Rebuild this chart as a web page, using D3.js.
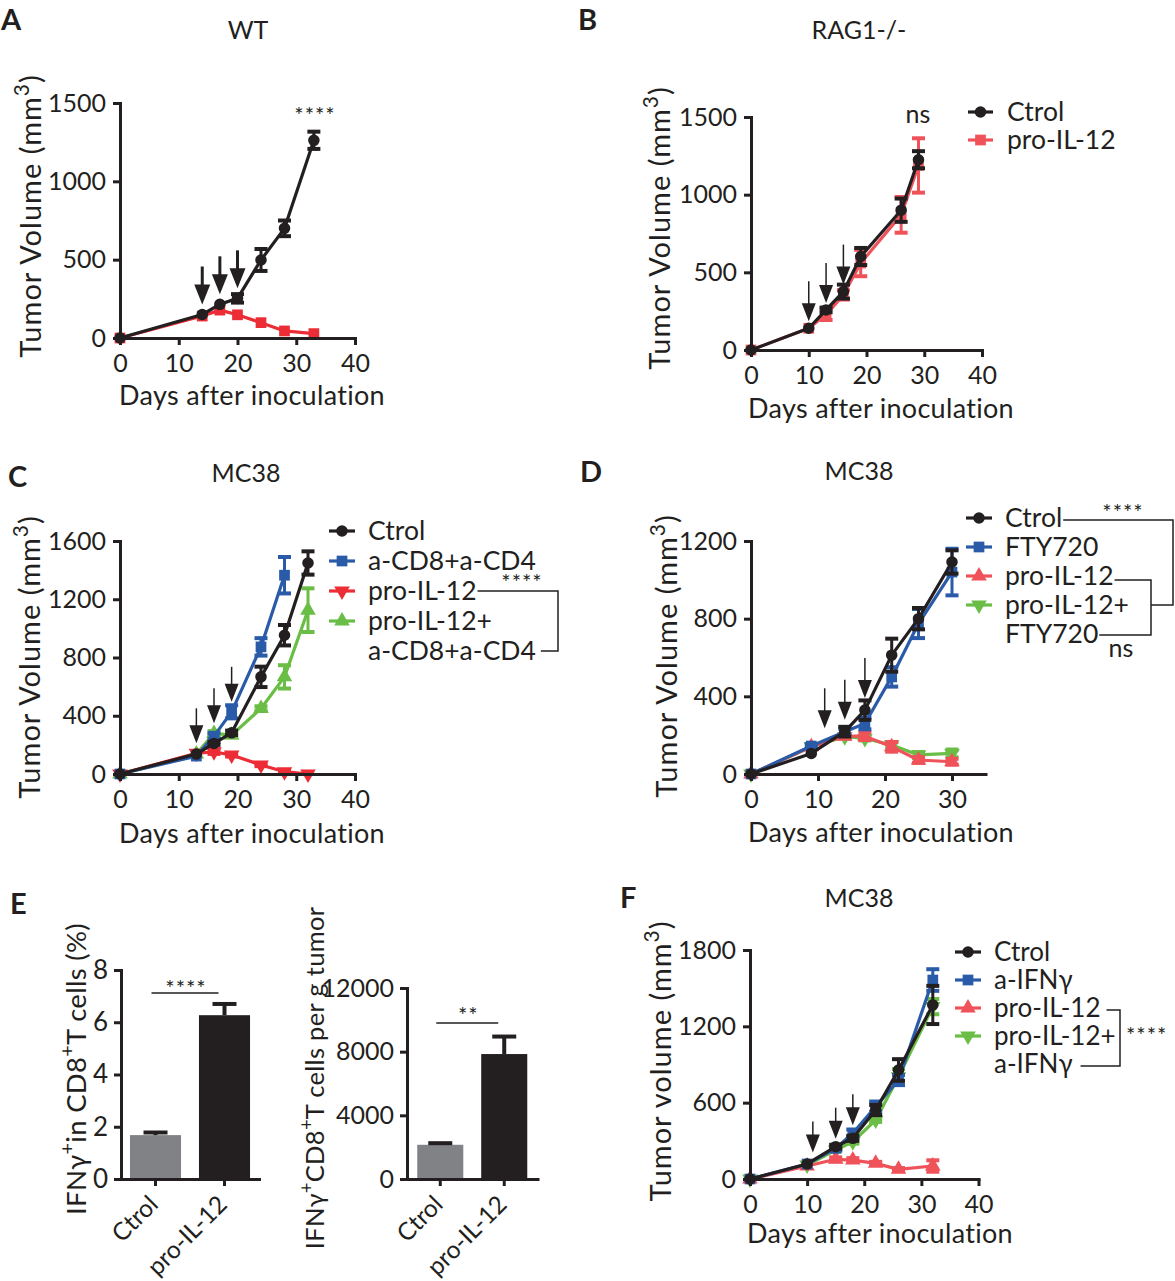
<!DOCTYPE html>
<html><head><meta charset="utf-8">
<script src="https://cdn.jsdelivr.net/npm/d3@7"></script>
<style>body{margin:0;background:#fff} text{font-family:Lato,"Open Sans",sans-serif;fill:#231f20}</style>
</head><body><svg id="c" width="1175" height="1281"></svg>
<script>
// ---------------- DATA ----------------
// Panel A (WT)
const daysA = [0,14,17,20,24,28,33];
const aCtrol = [0,150,215,253,498,700,1262];
const aCtrolErr = [0,0,0,27,70,50,55];
const aPro = [0,140,178,148,98,45,28];
const aProErr = [0,0,0,0,0,0,0];
const arrowDaysA = [14,17,20];
const xTicksA = [0,10,20,30,40];
const yTicksA = [0,500,1000,1500];

// Panel B (RAG1-/-)
const daysB = [0,10,13,16,19,26,29];
const bCtrol = [0,140,258,376,602,900,1225];
const bCtrolErr = [0,0,15,45,55,75,55];
const bPro = [0,140,228,355,560,870,1188];
const bProErr = [0,0,35,30,85,115,175];
const arrowDaysB = [10,13,16];
const xTicksB = [0,10,20,30,40];
const yTicksB = [0,500,1000,1500];

// Panel C (MC38, depletion)
const daysC = [0,13,16,19,24,28,32];
const cCtrol = [0,137,210,283,667,953,1449];
const cCtrolErr = [0,0,10,15,70,70,80];
const cAb = [0,123,260,427,873,1365,null];
const cAbErr = [0,0,20,45,60,125,0];
const cPro = [0,142,153,130,62,16,0];
const cProErr = [0,0,15,10,8,8,0];
const cProAb = [0,137,279,267,450,667,1125];
const cProAbErr = [0,0,15,15,15,80,150];
const arrowDaysC = [13,16,19];
const xTicksC = [0,10,20,30,40];
const yTicksC = [0,400,800,1200,1600];

// Panel D (MC38, FTY720)
const daysD = [0,9,14,17,21,25,30];
const dCtrol = [0,106,218,329,612,800,1092];
const dCtrolErr = [0,0,25,50,85,55,60];
const dFty = [0,144,218,260,500,775,1040];
const dFtyErr = [0,10,15,30,50,75,120];
const dPro = [0,140,195,195,140,72,63];
const dProErr = [0,0,10,20,25,15,15];
const dProFty = [0,140,192,183,149,98,106];
const dProFtyErr = [0,0,10,10,15,15,20];
const arrowDaysD = [11,14,17];
const xTicksD = [0,10,20,30];
const yTicksD = [0,400,800,1200];

// Panel E (bars)
const eCats = ['Ctrol','pro-IL-12'];
const ePct = [1.68,6.27];
const ePctErr = [0.1,0.43];
const eCount = [2150,7850];
const eCountErr = [100,1100];
const yTicksE1 = [0,2,4,6,8];
const yTicksE2 = [0,4000,8000,12000];

// Panel F (MC38, a-IFNγ)
const daysF = [0,10,15,18,22,26,32];
const fCtrol = [0,118,254,320,542,857,1368];
const fCtrolErr = [0,0,15,20,40,85,150];
const fAifn = [0,118,241,359,569,778,1564];
const fAifnErr = [0,0,15,30,40,40,85];
const fPro = [0,102,155,149,123,76,102];
const fProErr = [0,0,15,15,12,10,45];
const fProAifn = [0,110,228,293,464,804,1355];
const fProAifnErr = [0,0,10,15,15,60,60];
const arrowDaysF = [11,15,18];
const xTicksF = [0,10,20,30,40];
const yTicksF = [0,600,1200,1800];

// ---------------- STYLE ----------------
const FONT = 'Lato, "Open Sans", sans-serif';
const BLACK='#231f20', RED='#ec2d35', RED2='#f0525a', BLUE='#2a5ba8', GREEN='#6abd45', GRAY='#808285';
const svg = d3.select('#c');
const fmt = d3.format('d');

function sym(shape){
  const t = {circle:d3.symbolCircle, square:d3.symbolSquare, up:d3.symbolTriangle, down:d3.symbolTriangle}[shape];
  const size = {circle:105, square:115, up:105, down:105}[shape];
  return d3.symbol().type(t).size(size)();
}
function drawMarker(g, shape, color, x, y){
  g.append('path').attr('d', sym(shape)).attr('fill', color)
    .attr('transform', `translate(${x},${y})` + (shape==='down' ? ' rotate(180)' : ''));
}
function styleAxis(sel, fs){
  sel.attr('font-family', null).attr('font-size', null);
  sel.select('.domain').attr('stroke', BLACK).attr('stroke-width', 3).attr('stroke-linecap','square');
  sel.selectAll('.tick line').attr('stroke', BLACK).attr('stroke-width', 3);
  sel.selectAll('.tick text').attr('font-size', fs || 25).attr('fill', BLACK).attr('font-family', FONT);
}
function richText(g, x, y, parts, size, rotate, ls){
  const t = g.append('text').attr('transform', `translate(${x},${y})` + (rotate ? ' rotate(-90)' : ''))
    .attr('text-anchor','middle').attr('font-size', size).attr('letter-spacing', ls || 0);
  let pending = 0;
  parts.forEach(p => {
    const ts = t.append('tspan').text(p.t);
    if (p.sup) { ts.attr('dy', pending - size*0.42).attr('font-size', size*0.72); pending = size*0.42; }
    else { if (pending) ts.attr('dy', pending); pending = 0; }
  });
  return t;
}
function label(g, x, y, txt, size, anchor, weight){
  return g.append('text').attr('x', x).attr('y', y).attr('font-size', size)
    .attr('text-anchor', anchor || 'start').attr('font-weight', weight || 'normal').text(txt);
}

function linePanel(o){
  const x = d3.scaleLinear().domain(o.xDomain).range(o.xRange);
  const y = d3.scaleLinear().domain(o.yDomain).range(o.yRange);
  const g = svg.append('g');
  o.series.slice().reverse().forEach(s => {
    const pts = o.days.map((d,i) => ({d, v:s.values[i], e:s.err[i]})).filter(p => p.v != null);
    g.append('path').datum(pts).attr('d', d3.line().x(p => x(p.d)).y(p => y(p.v)))
      .attr('fill','none').attr('stroke', s.color).attr('stroke-width', 3.2).attr('stroke-linejoin','round');
    pts.filter(p => p.e > 0).forEach(p => {
      const cx = x(p.d), y1 = y(p.v + p.e), y2 = y(Math.max(0, p.v - p.e));
      g.append('line').attr('x1',cx).attr('x2',cx).attr('y1',y1).attr('y2',y2).attr('stroke',s.color).attr('stroke-width',3);
      [y1,y2].forEach(yy => g.append('line').attr('x1',cx-6.5).attr('x2',cx+6.5).attr('y1',yy).attr('y2',yy).attr('stroke',s.color).attr('stroke-width',4));
    });
    pts.forEach(p => drawMarker(g, s.shape, s.color, x(p.d), y(p.v)));
  });
  const ax = g.append('g').attr('transform', `translate(0,${o.yRange[0]})`)
    .call(d3.axisBottom(x).tickValues(o.xTicks).tickFormat(fmt).tickSize(7).tickSizeOuter(0).tickPadding(9));
  styleAxis(ax);
  const ay = g.append('g').attr('transform', `translate(${o.xRange[0]},0)`)
    .call(d3.axisLeft(y).tickValues(o.yTicks).tickFormat(fmt).tickSize(7).tickSizeOuter(0).tickPadding(7));
  styleAxis(ay);
  o.arrowDays.forEach(d => {
    let top = -Infinity;
    o.series.forEach(s => {
      const vals = o.days.map((dd,i)=>[dd, s.values[i]]).filter(q => q[1] != null);
      const v = d3.scaleLinear().domain(vals.map(q=>q[0])).range(vals.map(q=>q[1]))(d);
      if (d <= vals[vals.length-1][0]) top = Math.max(top, v);
    });
    const ax0 = x(d), tip = y(top) - o.arrowGap;
    const hw = o.heavy ? 8 : 7, hh = o.heavy ? 20 : 18;
    g.append('line').attr('x1',ax0).attr('x2',ax0).attr('y1',tip - o.arrowLen).attr('y2',tip - hh + 2)
      .attr('stroke',BLACK).attr('stroke-width', o.heavy ? 3 : 1.5);
    g.append('path').attr('d', `M${ax0-hw},${tip-hh}L${ax0+hw},${tip-hh}L${ax0},${tip}Z`).attr('fill',BLACK);
  });
  label(g, o.title[0], o.title[1], o.title[2], 25, 'middle');
  label(g, o.letter[0], o.letter[1], o.letter[2], 29, 'start', 'bold');
  label(g, o.xTitle[0], o.xTitle[1], 'Days after inoculation', 27, 'middle').attr('letter-spacing', 0.3);
  richText(g, o.yTitle[0], o.yTitle[1], [{t:o.yWord}, {t:'3', sup:true}, {t:')'}], 29, true, 1);
  const texts = [];
  if (o.legend) {
    const L = o.legend;
    L.rows.forEach((r, i) => {
      const yy = L.y0 + i * L.dy;
      if (r.color) {
        g.append('line').attr('x1', L.mx0).attr('x2', L.mx1).attr('y1', yy).attr('y2', yy).attr('stroke', r.color).attr('stroke-width', 3.2);
        drawMarker(g, r.shape, r.color, (L.mx0 + L.mx1) / 2, yy);
      }
      const t = label(g, L.tx, yy, r.label, L.fs || 26.5).attr('dy', '0.35em');
      texts.push({node: t.node(), y: yy});
    });
  }
  return {g, x, y, texts};
}
function textEnd(t){ return +t.node.getAttribute('x') + t.node.getComputedTextLength(); }
function bracket(g, pts){
  g.append('path').attr('d', d3.line()(pts)).attr('fill','none').attr('stroke',BLACK).attr('stroke-width',1.5);
}
function stars(g, x, y, txt, anchor){
  return g.append('text').attr('x', x).attr('y', y).attr('font-size', 22).attr('letter-spacing', 1)
    .attr('text-anchor', anchor || 'middle').text(txt);
}

// ---------------- PANEL A ----------------
const A = linePanel({
  days: daysA, xDomain:[0,40], xRange:[120,355], yDomain:[0,1500], yRange:[338,103],
  xTicks: xTicksA, yTicks: yTicksA,
  series: [
    {values:aCtrol, err:aCtrolErr, color:BLACK, shape:'circle'},
    {values:aPro, err:aProErr, color:RED, shape:'square'}
  ],
  arrowDays: arrowDaysA, arrowGap: 10, arrowLen: 38, heavy: true,
  title:[248,39,'WT'], letter:[1,30,'A'], xTitle:[252,405], yTitle:[41,216], yWord:'Tumor Volume (mm'
});
stars(A.g, 315, 123, '****');

// ---------------- PANEL B ----------------
const B = linePanel({
  days: daysB, xDomain:[0,40], xRange:[751,982], yDomain:[0,1500], yRange:[350,117],
  xTicks: xTicksB, yTicks: yTicksB,
  series: [
    {values:bCtrol, err:bCtrolErr, color:BLACK, shape:'circle'},
    {values:bPro, err:bProErr, color:RED2, shape:'square'}
  ],
  arrowDays: arrowDaysB, arrowGap: 7, arrowLen: 40, heavy: false,
  title:[859,39,'RAG1-/-'], letter:[578,30,'B'], xTitle:[881,418], yTitle:[670,228], yWord:'Tumor Volume (mm',
  legend:{mx0:968, mx1:993, tx:1007, y0:112, dy:28, rows:[
    {label:'Ctrol', color:BLACK, shape:'circle'},
    {label:'pro-IL-12', color:RED2, shape:'square'}]}
});
label(B.g, 918, 123, 'ns', 25, 'middle');

// ---------------- PANEL C ----------------
const C = linePanel({
  days: daysC, xDomain:[0,40], xRange:[120,355], yDomain:[0,1600], yRange:[774,541],
  xTicks: xTicksC, yTicks: yTicksC,
  series: [
    {values:cCtrol, err:cCtrolErr, color:BLACK, shape:'circle'},
    {values:cAb, err:cAbErr, color:BLUE, shape:'square'},
    {values:cPro, err:cProErr, color:RED, shape:'down'},
    {values:cProAb, err:cProAbErr, color:GREEN, shape:'up'}
  ],
  arrowDays: arrowDaysC, arrowGap: 10, arrowLen: 35, heavy: false,
  title:[246,482,'MC38'], letter:[8,487,'C'], xTitle:[252,843], yTitle:[40,657], yWord:'Tumor Volume (mm',
  legend:{mx0:329, mx1:355, tx:368, y0:531, dy:30, rows:[
    {label:'Ctrol', color:BLACK, shape:'circle'},
    {label:'a-CD8+a-CD4', color:BLUE, shape:'square'},
    {label:'pro-IL-12', color:RED, shape:'down'},
    {label:'pro-IL-12+', color:GREEN, shape:'up'},
    {label:'a-CD8+a-CD4'}]}
});
{
  const t = C.texts, xb = 558;
  bracket(C.g, [[textEnd(t[2]) + 1, t[2].y], [xb, t[2].y], [xb, t[4].y], [textEnd(t[4]) + 5, t[4].y]]);
  stars(C.g, 522, t[2].y - 1, '****');
}

// ---------------- PANEL D ----------------
const D = linePanel({
  days: daysD, xDomain:[0,35], xRange:[751,985.5], yDomain:[0,1200], yRange:[774,541],
  xTicks: xTicksD, yTicks: yTicksD,
  series: [
    {values:dCtrol, err:dCtrolErr, color:BLACK, shape:'circle'},
    {values:dFty, err:dFtyErr, color:BLUE, shape:'square'},
    {values:dPro, err:dProErr, color:RED2, shape:'up'},
    {values:dProFty, err:dProFtyErr, color:GREEN, shape:'down'}
  ],
  arrowDays: arrowDaysD, arrowGap: 12, arrowLen: 40, heavy: false,
  title:[859,480,'MC38'], letter:[580,482,'D'], xTitle:[881,842], yTitle:[677,656], yWord:'Tumor Volume (mm',
  legend:{mx0:966, mx1:992, tx:1005, y0:518, dy:29, rows:[
    {label:'Ctrol', color:BLACK, shape:'circle'},
    {label:'FTY720', color:BLUE, shape:'square'},
    {label:'pro-IL-12', color:RED2, shape:'up'},
    {label:'pro-IL-12+', color:GREEN, shape:'down'},
    {label:'FTY720'}]}
});
{
  const t = D.texts;
  const yIn0 = t[2].y + 4, yIn1 = t[4].y + 1, xin = 1151;
  bracket(D.g, [[textEnd(t[2]) + 1, yIn0], [xin, yIn0], [xin, yIn1], [textEnd(t[4]) + 1, yIn1]]);
  const yo0 = t[0].y + 2, yo1 = t[3].y, xo = 1173;
  bracket(D.g, [[textEnd(t[0]) + 1, yo0], [xo, yo0], [xo, yo1], [xin, yo1]]);
  stars(D.g, 1123, yo0, '****');
  label(D.g, 1121, 657, 'ns', 25, 'middle');
}

// ---------------- PANEL F ----------------
const F = linePanel({
  days: daysF, xDomain:[0,40], xRange:[750,978.5], yDomain:[0,1800], yRange:[1179,950],
  xTicks: xTicksF, yTicks: yTicksF,
  series: [
    {values:fCtrol, err:fCtrolErr, color:BLACK, shape:'circle'},
    {values:fAifn, err:fAifnErr, color:BLUE, shape:'square'},
    {values:fPro, err:fProErr, color:RED2, shape:'up'},
    {values:fProAifn, err:fProAifnErr, color:GREEN, shape:'down'}
  ],
  arrowDays: arrowDaysF, arrowGap: 8, arrowLen: 31, heavy: false,
  title:[859,907,'MC38'], letter:[620,908,'F'], xTitle:[880,1243], yTitle:[671,1061], yWord:'Tumor volume (mm',
  legend:{mx0:955, mx1:981, tx:994, y0:952, dy:28, fs:26, rows:[
    {label:'Ctrol', color:BLACK, shape:'circle'},
    {label:'a-IFNγ', color:BLUE, shape:'square'},
    {label:'pro-IL-12', color:RED2, shape:'up'},
    {label:'pro-IL-12+', color:GREEN, shape:'down'},
    {label:'a-IFNγ'}]}
});
{
  const t = F.texts, xb = 1120;
  bracket(F.g, [[textEnd(t[2]) + 6, t[2].y + 2], [xb, t[2].y + 2], [xb, t[4].y + 2], [textEnd(t[4]) + 8, t[4].y + 2]]);
  stars(F.g, 1126, 1043, '****', 'start');
}

// ---------------- PANEL E ----------------
function barPanel(o){
  const x = d3.scaleBand().domain(eCats).range(o.xRange).paddingInner(o.pi).paddingOuter(o.po);
  const y = d3.scaleLinear().domain(o.yDomain).range(o.yRange);
  const g = svg.append('g');
  const cols = [GRAY, BLACK];
  const data = eCats.map((c,i) => ({c, v:o.values[i], e:o.err[i], col:cols[i]}));
  g.selectAll('rect').data(data).join('rect')
    .attr('x', d => x(d.c)).attr('width', x.bandwidth())
    .attr('y', d => y(d.v)).attr('height', d => y(0) - y(d.v)).attr('fill', d => d.col);
  data.forEach(d => {
    const cx = x(d.c) + x.bandwidth()/2;
    g.append('line').attr('x1',cx).attr('x2',cx).attr('y1',y(d.v)).attr('y2',y(d.v+d.e)).attr('stroke',BLACK).attr('stroke-width',4);
    g.append('line').attr('x1',cx-12).attr('x2',cx+12).attr('y1',y(d.v+d.e)).attr('y2',y(d.v+d.e)).attr('stroke',BLACK).attr('stroke-width',4);
  });
  const ax = g.append('g').attr('transform', `translate(0,${o.yRange[0]})`)
    .call(d3.axisBottom(x).tickSize(7).tickSizeOuter(0));
  styleAxis(ax, 24.5);
  ax.selectAll('.tick text').attr('text-anchor','end').attr('dy', 0).attr('y', 0)
    .attr('transform', 'translate(4,27) rotate(-45)');
  const ay = g.append('g').attr('transform', `translate(${o.xRange[0]},0)`)
    .call(d3.axisLeft(y).tickValues(o.yTicks).tickFormat(fmt).tickSize(7).tickSizeOuter(0).tickPadding(6));
  styleAxis(ay, o.tickFs);
  const c0 = x(eCats[0]) + x.bandwidth()/2, c1 = x(eCats[1]) + x.bandwidth()/2;
  g.append('line').attr('x1', c0 - 4).attr('x2', c1 - 6).attr('y1', o.sigY).attr('y2', o.sigY).attr('stroke',BLACK).attr('stroke-width',1.5);
  stars(g, (c0 + c1)/2 - 4, o.sigY + o.starDy, o.sig);
  richText(g, o.yTitle[0], o.yTitle[1], o.yTitleParts, o.yTitleSize, true, 0.3);
  return g;
}
const E1 = barPanel({xRange:[121,259], pi:0.26, po:0.13, yDomain:[0,8], yRange:[1179,970],
  values:ePct, err:ePctErr, yTicks:yTicksE1, tickFs:26, sigY:993, starDy:3, sig:'****',
  yTitle:[86,1069], yTitleSize:27.5, yTitleParts:[{t:'IFNγ'},{t:'+',sup:true},{t:'in CD8'},{t:'+',sup:true},{t:'T cells (%)'}]});
const E2 = barPanel({xRange:[407,537.5], pi:0.28, po:0.16, yDomain:[0,12000], yRange:[1179,988],
  values:eCount, err:eCountErr, yTicks:yTicksE2, tickFs:25, sigY:1023, starDy:0, sig:'**',
  yTitle:[324,1078], yTitleSize:25.5, yTitleParts:[{t:'IFNγ'},{t:'+',sup:true},{t:'CD8'},{t:'+',sup:true},{t:'T cells per g tumor'}]});
label(svg, 10, 914, 'E', 29, 'start', 'bold');
</script></body></html>
